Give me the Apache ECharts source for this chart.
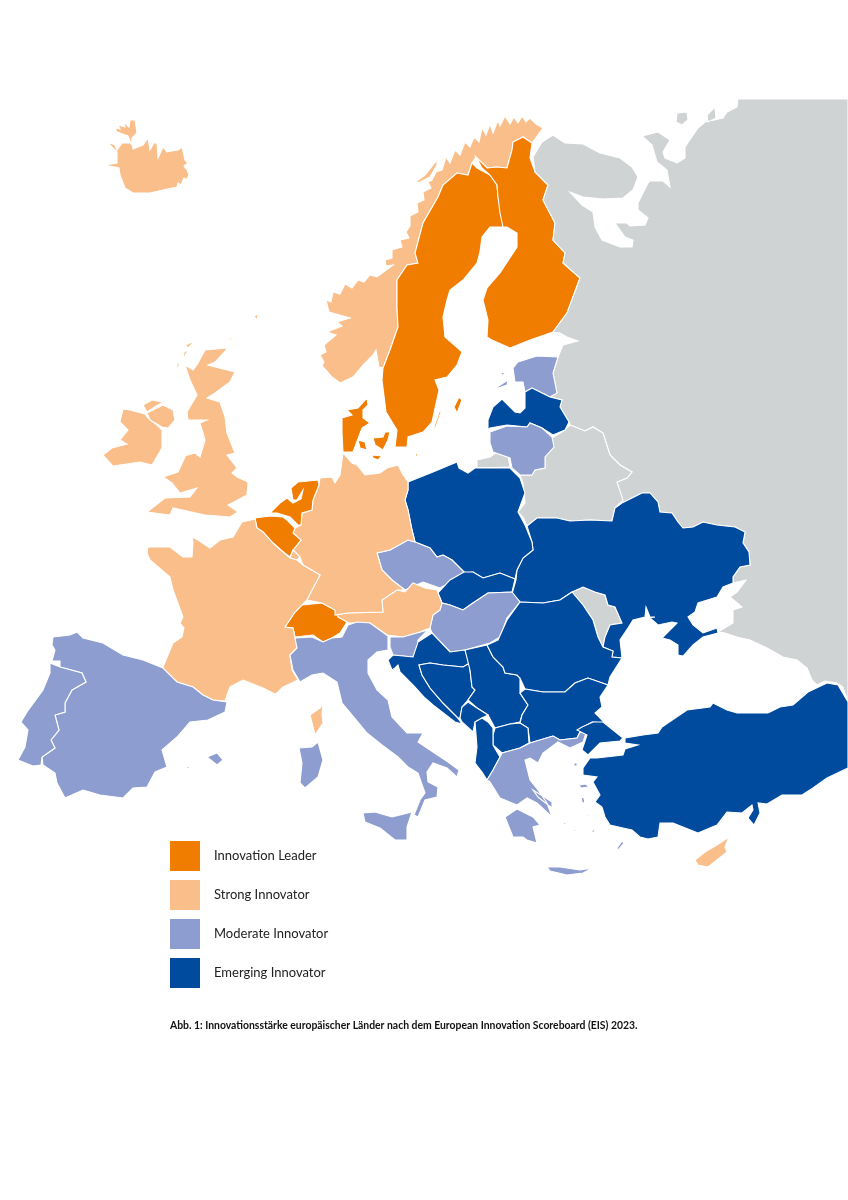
<!DOCTYPE html>
<html><head><meta charset="utf-8">
<style>html,body{margin:0;padding:0;background:#fff}#c{width:848px;height:1200px}</style>
<script src="https://cdn.jsdelivr.net/npm/echarts@6/dist/echarts.min.js"></script>
</head><body><div id="c"></div>
<script>
const tierLabels=['Innovation Leader','Strong Innovator','Moderate Innovator','Emerging Innovator'];
const tierColors=['#F07C00','#F9BE89','#8E9DCF','#004B9D'];
const leaderCountries=['Sweden','Finland','Denmark','Netherlands','Belgium','Switzerland'];
const strongCountries=['Iceland','Norway','Ireland','Northern Ireland','United Kingdom','Germany','France','Austria','Luxembourg','Cyprus'];
const moderateCountries=['Spain','Portugal','Italy','Czechia','Hungary','Slovenia','Greece','Estonia','Lithuania'];
const emergingCountries=['Poland','Latvia','Ukraine','Slovakia','Romania','Bulgaria','Croatia','Bosnia','Serbia','Montenegro','North Macedonia','Albania','Turkey'];
const otherCountries=['Russia','Belarus','Moldova','Kaliningrad'];
const caption='Abb. 1: Innovationsstärke europäischer Länder nach dem European Innovation Scoreboard (EIS) 2023.';

const outlines={
Iceland:[[[107,142],[115,145],[117,150],[122,143],[132,143],[133,149],[143,145],[148,138],[150,150],[154,143],[157,143],[158,158],[163,147],[167,152],[172,151],[178,150],[182,147],[185,160],[188,163],[184,166],[187,170],[189,175],[186,180],[184,178],[181,185],[178,183],[177,187],[163,190],[150,193],[133,193],[125,188],[120,175],[119,168],[105,165],[117,163],[117,152]],
 [[115,128],[120,129],[118,125],[125,127],[124,122],[129,127],[130,120],[135,120],[137,133],[132,138],[131,144],[128,136],[117,132]]],
Norway:[[[543,128],[536,124],[530,118],[526,122],[522,116],[518,123],[514,117],[510,124],[505,116],[500,126],[498,120],[493,133],[490,124],[486,135],[482,128],[479,142],[474,137],[470,147],[465,142],[460,155],[455,150],[450,163],[446,157],[442,170],[436,172],[432,180],[428,182],[431,188],[423,192],[424,200],[417,203],[418,212],[410,216],[410,226],[406,232],[409,238],[400,240],[402,247],[392,250],[392,258],[385,260],[386,266],[393,265],[377,277],[374,276],[370,275],[364,282],[358,280],[352,288],[345,284],[340,294],[333,292],[331,302],[326,300],[329,312],[350,318],[337,322],[342,326],[327,332],[336,335],[324,345],[326,352],[320,355],[324,362],[322,366],[326,370],[332,377],[340,383],[353,377],[363,365],[373,355],[376,350],[379,367],[383,368],[390,350],[398,327],[397,308],[397,280],[407,265],[418,263],[415,253],[423,223],[438,197],[443,185],[457,173],[468,175],[472,163],[476,157],[487,168],[497,167],[507,168],[512,150],[513,142],[523,137],[532,143]],
 [[414,183],[425,175],[437,160],[437,165],[430,177],[420,182]]],
Sweden:[[[472,163],[477,168],[490,175],[497,185],[498,197],[502,210],[503,227],[490,227],[482,237],[480,252],[477,263],[463,280],[450,290],[447,300],[443,317],[445,337],[460,350],[462,352],[457,365],[447,377],[435,380],[439,390],[432,422],[423,432],[408,437],[407,447],[395,447],[397,430],[386,412],[382,380],[383,368],[390,350],[398,327],[397,308],[397,280],[407,265],[418,263],[415,253],[423,223],[438,197],[443,185],[457,173],[468,175]],
 [[459,397],[462,400],[457,413],[454,407]],[[440,410],[441,412],[435,429],[434,427]]],
Finland:[[[523,137],[532,143],[530,158],[535,172],[548,185],[543,200],[555,223],[553,240],[565,253],[563,263],[580,278],[567,313],[553,332],[530,340],[510,348],[492,340],[487,337],[488,320],[483,300],[487,288],[500,273],[517,247],[517,233],[507,227],[503,227],[500,213],[498,197],[497,185],[490,175],[482,168],[476,157],[487,168],[497,167],[507,168],[512,150],[513,142]]],
Russia:[[[533,157],[542,142],[553,135],[565,143],[583,144],[600,153],[620,158],[632,167],[638,177],[633,190],[623,198],[603,199],[583,197],[570,192],[582,205],[593,212],[595,227],[602,240],[620,247],[632,247],[633,240],[625,237],[615,223],[627,223],[630,226],[645,225],[648,218],[638,210],[638,203],[648,183],[650,181],[663,181],[670,187],[667,170],[657,162],[652,145],[642,136],[658,132],[670,140],[663,152],[665,158],[677,163],[685,158],[685,147],[698,128],[705,122],[723,118],[727,112],[737,107],[738,99],[848,99],[848,702],[843,687],[837,683],[825,681],[817,685],[812,680],[807,668],[797,660],[783,657],[767,648],[750,640],[737,637],[725,633],[718,632],[733,623],[733,610],[742,607],[730,597],[737,592],[746,580],[733,583],[733,577],[740,567],[750,565],[749,552],[743,543],[745,532],[735,527],[717,525],[703,522],[693,527],[683,528],[678,522],[672,513],[660,512],[658,502],[650,493],[642,493],[622,503],[617,482],[627,478],[632,472],[620,465],[610,455],[603,433],[593,427],[585,431],[570,425],[569,422],[560,407],[562,400],[550,397],[557,393],[553,373],[558,357],[563,345],[578,341],[567,337],[560,333],[553,332],[567,313],[580,278],[563,263],[565,253],[553,240],[555,223],[543,200],[548,185],[535,172]],
 [[677,113],[687,112],[688,120],[682,125],[676,122]],
 [[715,107],[716,118],[708,122],[707,115]]],
Belarus:[[[570,425],[585,431],[593,427],[603,433],[610,455],[620,465],[632,472],[627,478],[617,482],[623,500],[615,508],[612,521],[590,520],[570,521],[557,518],[537,518],[527,526],[523,517],[518,512],[525,503],[523,483],[520,475],[532,475],[535,470],[545,468],[545,457],[553,447],[552,438],[565,430]]],
Kaliningrad:[[[477,460],[490,457],[497,452],[508,456],[510,467],[477,468]]],
Moldova:[[[572,592],[583,587],[595,592],[605,595],[608,605],[615,607],[622,623],[610,625],[605,637],[603,647],[598,637],[593,620],[583,605]]],
Ukraine:[[[527,526],[537,518],[557,518],[570,521],[590,520],[612,521],[615,508],[622,503],[642,493],[650,493],[658,502],[660,512],[672,513],[678,522],[683,528],[693,527],[703,522],[717,525],[735,527],[745,532],[743,543],[749,552],[750,565],[740,567],[733,577],[733,583],[723,587],[717,597],[698,603],[695,612],[688,617],[693,625],[703,633],[717,628],[718,633],[703,637],[693,645],[683,656],[678,655],[678,645],[670,640],[662,638],[677,623],[672,622],[658,625],[650,618],[655,617],[650,617],[646,607],[645,617],[633,620],[628,628],[620,640],[622,658],[612,657],[613,651],[603,647],[605,637],[610,625],[622,623],[615,607],[608,605],[605,595],[595,592],[583,587],[572,592],[560,600],[543,603],[520,602],[512,594],[516,580],[517,570],[523,558],[533,550],[532,542]]],
Poland:[[[408,482],[433,472],[457,462],[459,468],[468,473],[475,468],[510,468],[520,478],[525,493],[518,512],[525,525],[532,542],[533,550],[523,558],[517,570],[515,579],[500,573],[483,578],[473,572],[465,573],[452,560],[443,555],[437,557],[430,548],[415,542],[412,530],[408,510],[405,500],[408,490]]],
Czechia:[[[415,542],[430,548],[437,557],[443,555],[452,560],[464,572],[455,580],[440,588],[423,582],[405,590],[392,580],[382,570],[377,553],[390,550],[408,540]]],
Slovakia:[[[438,593],[450,580],[464,572],[473,572],[483,578],[500,573],[515,579],[516,580],[512,592],[488,593],[473,603],[463,610],[450,605],[442,603]]],
Hungary:[[[430,628],[433,615],[440,610],[442,603],[450,605],[463,610],[473,603],[488,593],[512,592],[520,602],[507,618],[500,637],[490,643],[465,650],[450,652],[432,633]]],
Austria:[[[335,615],[347,613],[383,612],[382,600],[397,590],[405,592],[413,583],[425,588],[437,590],[438,593],[442,603],[440,610],[433,615],[430,628],[417,633],[403,637],[387,635],[370,623],[350,623],[343,622]]],
Switzerland:[[[285,627],[295,612],[302,605],[322,603],[335,610],[338,617],[347,622],[340,633],[332,638],[323,642],[313,635],[295,637],[293,628]]],
Germany:[[[320,478],[332,477],[335,483],[340,475],[343,453],[352,463],[357,465],[365,475],[380,473],[387,468],[398,465],[402,473],[408,482],[408,490],[405,500],[408,510],[412,530],[415,542],[408,540],[390,550],[377,553],[382,570],[392,580],[405,590],[397,590],[382,600],[383,612],[347,613],[335,615],[335,610],[322,603],[307,600],[312,590],[320,575],[303,565],[300,557],[293,550],[301,540],[293,533],[295,528],[301,525],[302,513],[312,510],[313,500],[319,485]]],
Netherlands:[[[298,482],[318,480],[319,485],[313,500],[312,510],[302,513],[301,525],[298,525],[290,517],[277,513],[270,513],[280,503],[287,498],[293,503],[301,499],[303,490],[297,500],[293,500],[291,488]]],
Belgium:[[[255,518],[270,516],[283,517],[287,520],[295,528],[293,533],[301,540],[293,550],[290,557],[282,551],[273,543],[263,532],[257,528]]],
Luxembourg:[[[293,550],[300,557],[297,560],[290,558]]],
France:[[[148,547],[170,547],[183,557],[192,557],[193,542],[192,537],[198,540],[210,548],[220,540],[233,537],[242,522],[255,519],[257,528],[263,532],[273,543],[282,551],[290,558],[297,560],[303,565],[320,575],[312,590],[307,600],[302,605],[295,612],[285,627],[293,628],[295,637],[297,648],[290,655],[292,670],[298,680],[283,687],[277,693],[275,694],[263,688],[243,680],[230,687],[225,701],[213,700],[203,695],[193,687],[177,682],[163,670],[163,667],[173,643],[182,637],[184,628],[180,623],[183,617],[173,590],[170,577],[150,560],[147,553]],
 [[323,704],[322,715],[323,723],[315,735],[312,723],[310,715],[320,708]]],
Spain:[[[53,637],[70,635],[77,632],[83,638],[103,643],[123,655],[143,660],[163,668],[177,682],[193,687],[203,695],[213,700],[227,702],[225,712],[208,720],[190,722],[177,737],[162,750],[167,767],[155,772],[147,787],[133,788],[123,798],[100,795],[83,790],[65,798],[57,783],[55,773],[43,765],[42,757],[55,748],[51,740],[59,730],[55,715],[65,712],[65,703],[72,690],[86,682],[82,673],[60,667],[60,661],[52,661],[55,650],[52,645]],
 [[207,757],[217,753],[223,760],[217,765]],[[230,753],[235,757],[232,755]],[[186,767],[190,766],[188,769]]],
Portugal:[[[50,663],[60,667],[82,673],[86,682],[72,690],[65,703],[65,712],[55,715],[59,730],[51,740],[55,748],[42,757],[41,765],[33,766],[18,760],[25,747],[28,730],[21,722],[27,712],[43,690],[50,673]]],
Italy:[[[295,638],[312,637],[323,642],[332,638],[342,637],[348,625],[357,622],[370,623],[388,636],[388,650],[377,652],[368,660],[368,673],[377,690],[388,700],[392,717],[407,733],[423,733],[418,742],[433,752],[448,762],[459,770],[457,777],[447,768],[433,763],[427,772],[428,782],[438,787],[437,797],[425,800],[418,817],[414,815],[420,800],[425,793],[418,773],[408,767],[398,757],[382,745],[367,733],[348,710],[342,703],[337,682],[323,673],[312,675],[300,682],[293,670],[290,655],[297,648]],
 [[318,742],[323,760],[318,777],[305,788],[300,783],[302,763],[299,748],[312,747]],
 [[363,813],[375,812],[392,817],[412,812],[407,827],[407,840],[395,840],[380,828],[365,822]]],
Slovenia:[[[390,637],[403,637],[417,633],[428,630],[418,640],[417,650],[413,657],[393,655],[390,647]]],
Croatia:[[[432,633],[450,652],[465,650],[470,663],[463,667],[443,665],[430,663],[419,665],[422,675],[430,688],[443,703],[457,717],[462,724],[455,722],[433,705],[425,698],[413,685],[400,672],[398,665],[395,668],[392,670],[388,660],[393,655],[413,657],[418,642]]],
Bosnia:[[[419,665],[430,663],[443,665],[463,667],[470,663],[470,670],[472,687],[475,690],[468,700],[462,707],[460,718],[458,718],[443,703],[430,688],[422,675]]],
Serbia:[[[465,650],[487,645],[493,657],[503,667],[505,673],[517,675],[520,678],[520,693],[528,705],[522,715],[520,722],[510,724],[495,728],[488,715],[477,708],[468,700],[475,690],[472,687],[470,670]]],
Montenegro:[[[468,702],[477,708],[488,715],[482,718],[475,722],[473,732],[462,722],[460,718],[462,707]]],
Romania:[[[487,645],[498,640],[507,620],[520,602],[543,603],[560,600],[572,592],[583,605],[593,620],[598,637],[603,647],[613,651],[612,657],[622,658],[610,677],[608,685],[588,678],[575,683],[565,692],[543,692],[525,689],[520,678],[517,675],[505,673],[503,667],[493,657]]],
Bulgaria:[[[525,689],[543,692],[565,692],[575,683],[588,678],[608,685],[600,697],[602,707],[595,713],[605,723],[592,722],[582,728],[577,738],[560,740],[553,736],[530,743],[528,728],[520,723],[522,715],[528,705],[520,693]]],
'North Macedonia':[[[495,728],[510,724],[520,723],[528,728],[529,743],[520,748],[502,753],[493,745],[493,735]]],
Albania:[[[475,722],[482,718],[488,722],[493,728],[493,745],[500,757],[493,770],[487,780],[482,772],[475,763],[477,747]]],
Greece:[[[530,743],[553,736],[560,740],[577,738],[580,732],[586,733],[583,742],[570,748],[558,742],[543,753],[538,763],[530,758],[525,760],[530,780],[538,790],[547,803],[552,817],[537,803],[527,798],[517,805],[500,798],[490,782],[487,780],[493,770],[500,757],[502,753],[520,748]],
 [[505,817],[517,809],[533,817],[540,825],[533,827],[537,843],[527,840],[523,837],[513,837]],
 [[547,867],[560,867],[580,870],[593,868],[583,873],[567,875],[550,871]],
 [[533,790],[552,802],[552,808],[538,797]],
 [[617,848],[622,841],[624,843],[618,850]],
 [[579,785],[586,784],[589,787],[581,788]],
 [[581,797],[584,798],[585,804],[582,802]],
 [[574,763],[577,763],[577,766],[574,766]],
 [[573,830],[577,830],[575,832]],[[590,832],[596,828],[594,832]],[[563,822],[566,823],[564,825]],[[586,814],[590,815],[587,816]]],
Turkey:[[[603,722],[623,738],[620,741],[600,743],[588,755],[582,750],[587,735],[577,730],[582,727],[593,722]],
 [[625,738],[643,735],[658,733],[662,727],[687,710],[710,707],[713,703],[727,710],[737,713],[768,713],[780,707],[793,705],[808,692],[827,683],[838,685],[848,702],[848,768],[827,778],[813,788],[802,795],[782,795],[767,804],[758,803],[760,813],[754,825],[748,818],[753,810],[752,805],[742,813],[727,812],[717,825],[698,833],[673,823],[660,823],[658,837],[648,839],[640,837],[632,830],[623,828],[610,825],[605,817],[602,807],[595,802],[600,795],[593,782],[597,777],[583,775],[583,768],[590,758],[597,758],[623,755],[625,749],[638,745],[625,743]]],
Cyprus:[[[729,837],[725,847],[727,852],[717,860],[708,867],[698,865],[695,860],[705,852],[717,845]]],
Ireland:[[[123,409],[130,410],[145,414],[148,418],[157,425],[162,430],[162,448],[152,465],[140,462],[113,466],[103,455],[112,448],[127,444],[120,440],[128,430],[120,422]],
 [[143,405],[152,400],[163,402],[153,408],[147,412]]],
'Northern Ireland':[[[153,410],[163,405],[173,410],[175,420],[168,428],[162,427],[150,420],[147,413]]],
'United Kingdom':[[[205,350],[228,348],[215,362],[208,365],[235,372],[230,382],[215,393],[207,398],[220,402],[225,417],[227,433],[235,453],[227,455],[237,468],[232,473],[237,477],[248,482],[247,495],[228,505],[238,512],[230,517],[205,515],[173,508],[170,515],[147,512],[165,498],[190,497],[197,488],[180,493],[172,483],[163,477],[178,472],[185,457],[177,458],[195,453],[200,457],[205,440],[200,423],[207,420],[188,420],[187,412],[197,395],[190,380],[185,365],[193,370],[197,365]],
 [[185,345],[195,341],[188,348]],[[184,352],[188,350],[183,360]],[[177,364],[180,362],[177,372]],[[230,337],[232,338],[229,342]],[[254,316],[258,314],[257,320]]],
Denmark:[[[367,398],[368,405],[363,410],[363,418],[370,423],[362,428],[353,452],[343,452],[342,433],[342,418],[352,415],[347,410],[358,408]],
 [[358,440],[365,442],[367,450],[360,448]],
 [[373,438],[383,437],[385,432],[390,432],[388,440],[383,450],[375,445]],
 [[372,455],[382,456],[378,460],[373,458]],
 [[415,452],[418,455],[416,457]]],
Estonia:[[[513,368],[518,362],[537,356],[558,357],[553,373],[557,393],[550,397],[542,393],[532,388],[525,392],[523,382],[515,382]],
 [[497,387],[508,380],[507,385],[498,388]],[[501,373],[505,372],[503,376]]],
Latvia:[[[488,420],[493,407],[502,399],[515,412],[520,413],[525,408],[525,392],[532,388],[542,393],[550,397],[562,400],[560,407],[569,422],[565,430],[553,435],[542,428],[530,423],[527,427],[507,425],[490,428],[488,430]]],
Lithuania:[[[490,432],[507,426],[527,427],[530,423],[542,428],[552,437],[554,447],[545,457],[545,468],[535,470],[532,475],[520,475],[512,468],[510,458],[493,452],[490,443]]]
};

function feature(name){
  return {type:'Feature',properties:{name:name},geometry:{type:'MultiPolygon',
    coordinates:outlines[name].map(function(ring){
      var r=ring.map(function(p){return [p[0],-p[1]];});r.push(r[0]);return [r];})}};
}
const geoJson={type:'FeatureCollection',features:Object.keys(outlines).map(feature)};
echarts.registerMap('europe',geoJson);

const tierData=[leaderCountries,strongCountries,moderateCountries,emergingCountries];
const seriesData=[];
tierData.forEach(function(list,i){list.forEach(function(n){seriesData.push({name:n,value:i});});});

const chart=echarts.init(document.getElementById('c'),null,{renderer:'canvas'});
chart.setOption({
  animation:false,
  backgroundColor:'#fff',
  title:{text:caption,left:170,top:1021,padding:0,textStyle:{fontFamily:'Lato',fontSize:10.4,fontWeight:'bold',color:'#111'}},
  visualMap:{type:'piecewise',orient:'vertical',left:170,top:841,padding:0,itemWidth:30,itemHeight:30,itemGap:9,itemSymbol:'rect',textGap:14,
    inverse:true,selectedMode:false,hoverLink:false,align:'left',
    textStyle:{fontFamily:'Lato',fontSize:13,color:'#222'},
    pieces:tierLabels.map(function(t,i){return {value:i,label:t,color:tierColors[i]};})},
  series:[{type:'map',map:'europe',silent:true,roam:false,aspectScale:1,
    boundingCoords:[[0,0],[848,-1200]],left:0,top:0,width:848,height:1200,
    label:{show:false},
    itemStyle:{areaColor:'#D0D3D4',borderColor:'#fff',borderWidth:1.1},
    emphasis:{disabled:true},select:{disabled:true},
    data:seriesData}]
});
</script></body></html>
